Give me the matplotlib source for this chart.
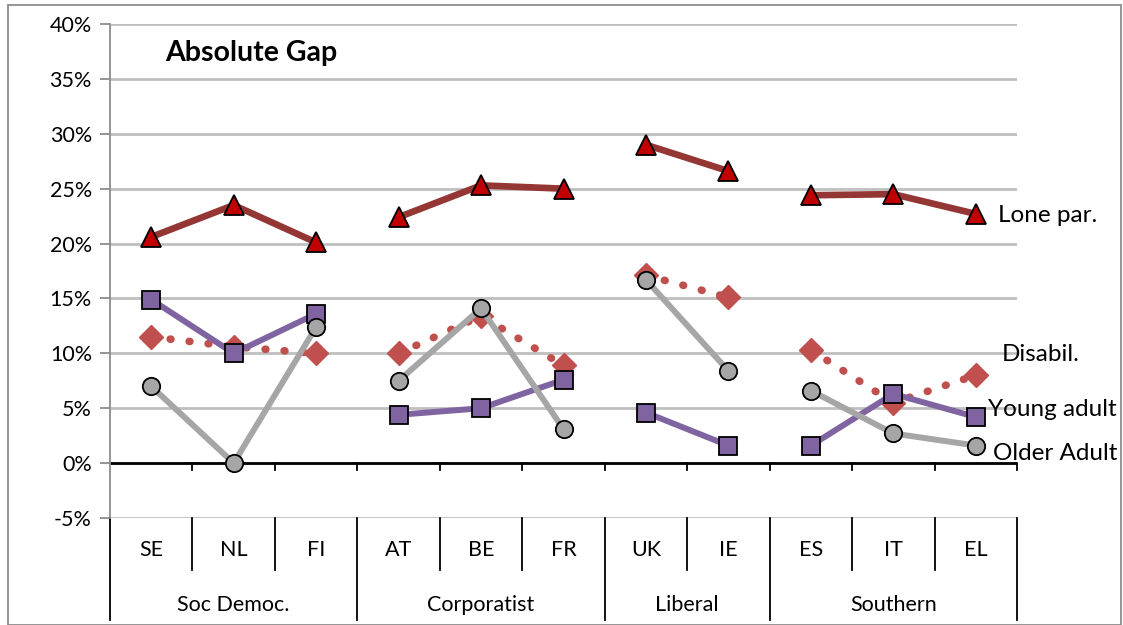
import matplotlib.pyplot as plt
import matplotlib.transforms as mtransforms

plt.rcParams['font.family'] = ['Lato', 'DejaVu Sans']

# données (en %)
countries = ['SE', 'NL', 'FI', 'AT', 'BE', 'FR', 'UK', 'IE', 'ES', 'IT', 'EL']
groups = ['Soc Democ.', 'Corporatist', 'Liberal', 'Southern']
group_sizes = [3, 3, 2, 3]

lone_par = [20.6, 23.5, 20.1, 22.4, 25.3, 25.0, 29.0, 26.6, 24.4, 24.5, 22.7]
young_adult = [14.9, 10.0, 13.6, 4.4, 5.0, 7.6, 4.6, 1.6, 1.6, 6.3, 4.2]
disabil = [11.5, 10.6, 10.0, 10.0, 13.4, 8.9, 17.1, 15.1, 10.3, 5.5, 8.0]
older_adult = [7.0, 0.0, 12.4, 7.5, 14.1, 3.1, 16.7, 8.4, 6.6, 2.7, 1.6]

yticks = [-5, 0, 5, 10, 15, 20, 25, 30, 35, 40]

fig = plt.figure(figsize=(11.23, 6.25), dpi=100)
W, H = 1123, 625
ax = fig.add_axes([110 / W, (H - 518) / H, (1017 - 110) / W, (518 - 24) / H])

# cadre extérieur du graphique
fig.add_artist(plt.Rectangle((8 / W, 0), 1113 / W, (H - 5) / H, transform=fig.transFigure,
                             fill=False, edgecolor='#8c8c8c', linewidth=1.3))

n = len(countries)
x = list(range(n))

# séries coupées entre les groupes
series = [
    (disabil, dict(color='#C0504D', linestyle=(0, (0.1, 2.4)), linewidth=5.5, dash_capstyle='round',
                   marker='D', markersize=12.5, markerfacecolor='#C0504D', markeredgecolor='#C0504D'), 2),
    (young_adult, dict(color='#8064A2', linewidth=4.3, marker='s', markersize=13,
                       markerfacecolor='#8064A2', markeredgecolor='black', markeredgewidth=1.3), 3),
    (older_adult, dict(color='#A6A6A6', linewidth=4.3, marker='o', markersize=12.5,
                       markerfacecolor='#A6A6A6', markeredgecolor='black', markeredgewidth=1.3), 4),
    (lone_par, dict(color='#943634', linewidth=4.8, marker='^', markersize=14,
                    markerfacecolor='#C00000', markeredgecolor='black', markeredgewidth=1.3), 5),
]
start = 0
for size in group_sizes:
    idx = list(range(start, start + size))
    for vals, style, z in series:
        ax.plot(idx, [vals[i] for i in idx], zorder=z, clip_on=False, **style)
    start += size

ax.set_xlim(-0.5, n - 0.5)
ax.set_ylim(-5, 40)
ax.set_yticks(yticks)
ax.set_yticklabels([f'{v}%' for v in yticks], fontsize=15.5)
ax.yaxis.grid(True, color='#BFBFBF', linewidth=2)
ax.set_axisbelow(True)
ax.tick_params(axis='y', length=7, width=1.3, color='#8c8c8c', pad=6)
ax.set_xticks([])
for s in ['top', 'right', 'bottom']:
    ax.spines[s].set_visible(False)
ax.spines['left'].set_color('#8c8c8c')
ax.spines['left'].set_linewidth(1.3)

# axe des catégories à 0
ax.axhline(0, color='black', linewidth=2, zorder=1.5)
for b in [i - 0.5 for i in range(1, n + 1)]:
    ax.plot([b, b], [0, -0.6], color='black', linewidth=1.3, clip_on=False)

# tableau des étiquettes sous le graphique
trans = mtransforms.blended_transform_factory(ax.transData, ax.transAxes)
y_row = -52 / 494
y_bot = -102 / 494
bounds = [0]
for size in group_sizes:
    bounds.append(bounds[-1] + size)
for i in range(n + 1):
    b = i - 0.5
    if i in bounds:
        ax.plot([b, b], [0, y_bot], transform=trans, color='black', linewidth=1.3, clip_on=False)
    else:
        ax.plot([b, b], [0, y_row], transform=trans, color='black', linewidth=1.3, clip_on=False)
for i, c in enumerate(countries):
    ax.text(i, -32 / 494, c, transform=trans, ha='center', va='center', fontsize=15.5)
for g, a, b in zip(groups, bounds[:-1], bounds[1:]):
    ax.text((a + b - 1) / 2, -87 / 494, g, transform=trans, ha='center', va='center', fontsize=15.5)

# titre et étiquettes des séries
ax.text(55 / 907, 37.4, 'Absolute Gap', fontsize=20.5, fontweight='bold',
        transform=mtransforms.blended_transform_factory(ax.transAxes, ax.transData), va='center')
fig.text(998 / W, 1 - 216 / H, 'Lone par.', fontsize=17.5, va='center')
fig.text(1002 / W, 1 - 355 / H, 'Disabil.', fontsize=17.5, va='center')
fig.text(988 / W, 1 - 410 / H, 'Young adult', fontsize=17.5, va='center')
fig.text(993 / W, 1 - 453 / H, 'Older Adult', fontsize=17.5, va='center')

fig.savefig('out.png', dpi=100)
